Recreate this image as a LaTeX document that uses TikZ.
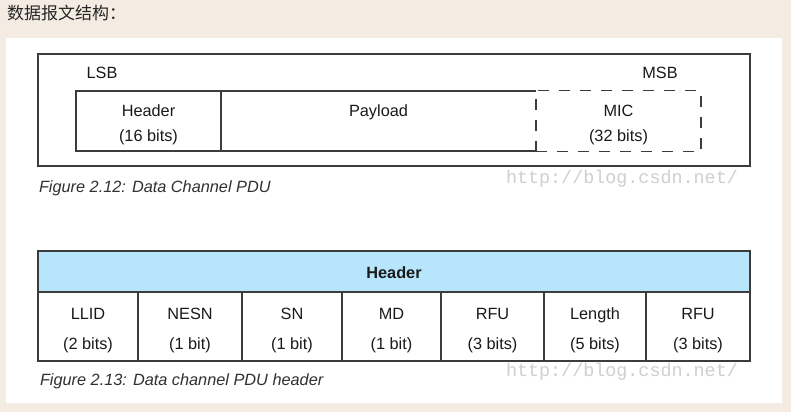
\documentclass[tikz,border=0pt]{standalone}
\usepackage{fontspec}
\setmainfont{Liberation Sans}
\newfontfamily\cjkfont{Noto Sans CJK SC}
\newfontfamily\wmfont{Liberation Mono}
\definecolor{bgc}{HTML}{F4ECE2}
\definecolor{linec}{HTML}{3C3C3C}
\definecolor{txtc}{HTML}{1A1A1A}
\definecolor{hdrblue}{HTML}{B7E5FC}
\definecolor{wmc}{HTML}{CFCFCF}
\newcommand{\ph}{\vphantom{(}}
\begin{document}
\begin{tikzpicture}[x=1pt,y=-1pt,
  every node/.style={inner sep=0pt, outer sep=0pt, text=txtc},
  box/.style={draw=linec, line width=1.4pt, rectangle},
  blank/.style={rectangle},
  ttop/.style={align=center, font=\fontsize{16.3}{25}\selectfont},
  tbot/.style={align=center, font=\fontsize{16.3}{29.5}\selectfont},
  lbl/.style={anchor=base, font=\fontsize{16.3}{19}\selectfont},
  figcaption/.style={anchor=base west, font=\fontsize{16.3}{19}\selectfont\itshape, text=txtc!90},
  wmark/.style={anchor=base west, font=\fontsize{18.4}{20}\wmfont, text=wmc},
  dashbox/.style={draw=linec, line width=1.4pt, dash pattern=on 11pt off 10pt, rectangle}
]
\useasboundingbox (0,0) rectangle (791,412);
\fill[bgc] (0,0) rectangle (791,412);
\fill[white] (6,38) rectangle (782,403);

% title
\node[anchor=west, font=\fontsize{17}{20}\cjkfont, text=black!85] (title) at (7,13) {数据报文结构：};

% ---------- Figure 2.12 ----------
\node[box, minimum width=712, minimum height=112] (frame) at (394,110) {};
\node[lbl] (lsb) at (102,78.8) {LSB};
\node[lbl] (msb) at (660,78.8) {MSB};

\node[box, minimum width=145, minimum height=60] (hdr) at (148.5,121) {};
\node[blank, minimum width=315, minimum height=60] (pay) at (378.5,121) {};
\draw[linec, line width=1.4pt] (pay.south east) -- (pay.south west) -- (pay.north west) -- (pay.north east);
\node[dashbox, minimum width=165, minimum height=61] (mic) at (618.5,121) {};

\node[ttop] (hdrt) at (148.5,124.6) {\ph Header\\\ph(16 bits)};
\node[lbl] (payt) at (378.5,116) {Payload};
\node[ttop] (mict) at (618.5,124.6) {\ph MIC\\\ph(32 bits)};

\node[figcaption] (cap1) at (39,192) {Figure 2.12: Data Channel PDU};
\node[wmark] (wm1) at (506,183.3) {http://blog.csdn.net/};

% ---------- Figure 2.13 ----------
\node[box, fill=hdrblue, minimum width=712, minimum height=41] (th) at (394,271.5) {};
\node[lbl, font=\fontsize{16.3}{19}\selectfont\bfseries] (tht) at (394,278.9) {Header};

\node[box, minimum width=100, minimum height=69] (c1) at (88,326.5) {};
\node[box, minimum width=104, minimum height=69] (c2) at (190,326.5) {};
\node[box, minimum width=100, minimum height=69] (c3) at (292,326.5) {};
\node[box, minimum width=99, minimum height=69] (c4) at (391.5,326.5) {};
\node[box, minimum width=103, minimum height=69] (c5) at (492.5,326.5) {};
\node[box, minimum width=102, minimum height=69] (c6) at (595,326.5) {};
\node[box, minimum width=104, minimum height=69] (c7) at (698,326.5) {};

\node[tbot] (t1) at (88,330.4) {\ph LLID\\\ph(2 bits)};
\node[tbot] (t2) at (190,330.4) {\ph NESN\\\ph(1 bit)};
\node[tbot] (t3) at (292,330.4) {\ph SN\\\ph(1 bit)};
\node[tbot] (t4) at (391.5,330.4) {\ph MD\\\ph(1 bit)};
\node[tbot] (t5) at (492.5,330.4) {\ph RFU\\\ph(3 bits)};
\node[tbot] (t6) at (595,330.4) {\ph Length\\\ph(5 bits)};
\node[tbot] (t7) at (698,330.4) {\ph RFU\\\ph(3 bits)};

\node[figcaption] (cap2) at (40,385.9) {Figure 2.13: Data channel PDU header};
\node[wmark] (wm2) at (506,376.7) {http://blog.csdn.net/};
\end{tikzpicture}
\end{document}
